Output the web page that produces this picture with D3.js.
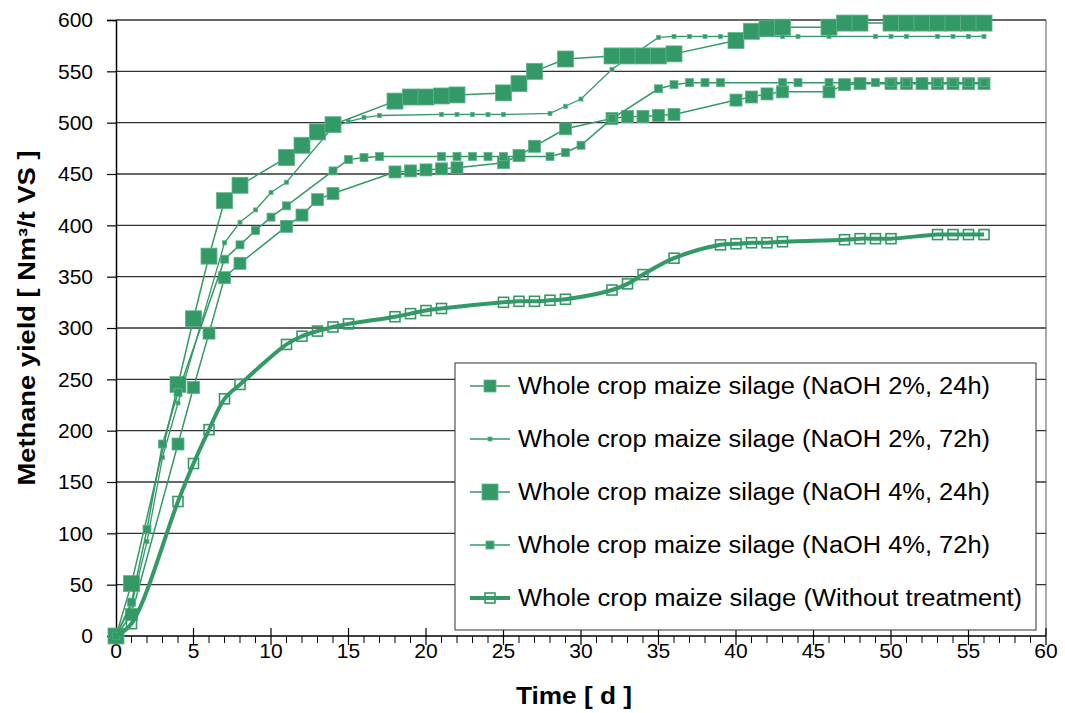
<!DOCTYPE html>
<html>
<head>
<meta charset="utf-8">
<script src="https://cdn.jsdelivr.net/npm/d3@7"></script>
<style>
  body { margin: 0; background: #fff; }
  svg text { font-family: "Liberation Sans", Arial, sans-serif; fill: #000; }
</style>
</head>
<body>
<div id="chart"></div>
<script>
// sampling days (two measuring schedules + untreated reference)
const days24h = [0, 1, 4, 5, 6, 7, 8, 11, 12, 13, 14, 18, 19, 20, 21, 22, 25, 26, 27, 29, 32, 33, 34, 35, 36, 40, 41, 42, 43, 46, 47, 48, 50, 51, 52, 53, 54, 55, 56];
const days72h = [0, 1, 2, 3, 4, 7, 8, 9, 10, 11, 14, 15, 16, 17, 21, 22, 23, 24, 25, 28, 29, 30, 32, 35, 36, 37, 38, 39, 43, 44, 46, 49, 50, 51, 53, 54, 55, 56];
const daysRaw = [0, 1, 4, 5, 6, 7, 8, 11, 12, 13, 14, 15, 18, 19, 20, 21, 25, 26, 27, 28, 29, 32, 33, 34, 36, 39, 40, 41, 42, 43, 47, 48, 49, 50, 53, 54, 55, 56];

// methane yield [Nm3/t VS]
const naoh2_24h = [0, 21, 187, 242, 295, 349, 363, 399, 410, 425, 431, 452, 453, 454, 455, 456, 461, 468, 477, 494, 504, 506, 506, 507, 508, 522, 525, 528, 530, 530, 537, 538, 538, 538, 538, 538, 538, 538, 538];
const naoh2_72h = [0, 30, 92, 174, 227, 383, 403, 415, 432, 442, 496, 501, 505, 507, 508, 508, 508, 508, 508, 509, 516, 523, 552, 583, 584, 584, 584, 584, 584, 584, 584, 584, 584, 584, 584, 584, 584, 584];
const naoh4_24h = [0, 51, 245, 309, 370, 424, 439, 466, 478, 491, 498, 521, 525, 525, 526, 527, 529, 538, 550, 562, 565, 565, 565, 565, 567, 580, 589, 592, 593, 593, 597, 597, 597, 597, 597, 597, 597, 597, 597];
const naoh4_72h = [0, 33, 104, 187, 237, 367, 381, 395, 408, 419, 453, 464, 466, 467, 467, 467, 467, 467, 467, 467, 471, 478, 504, 533, 537, 539, 539, 539, 539, 539, 539, 539, 539, 539, 539, 539, 539, 539];
const untreated = [0, 12, 131, 168, 201, 231, 245, 284, 292, 297, 301, 304, 311, 314, 317, 319, 325, 326, 326, 327, 328, 337, 343, 352, 368, 381, 382, 383, 383, 384, 386, 387, 387, 387, 391, 391, 391, 391];

const seriesNames = [
  'Whole crop maize silage (NaOH 2%, 24h)',
  'Whole crop maize silage (NaOH 2%, 72h)',
  'Whole crop maize silage (NaOH 4%, 24h)',
  'Whole crop maize silage (NaOH 4%, 72h)',
  'Whole crop maize silage (Without treatment)'
];
const xTicks = d3.range(0, 61, 5);
const yTicks = d3.range(0, 601, 50);

const green = '#339966';
const W = 1065, H = 713;
const margin = { left: 116, right: 19, top: 20, bottom: 77 };

const series = [
  { name: seriesNames[0], x: days24h, y: naoh2_24h, size: 12, lw: 1.5, open: false, smooth: false },
  { name: seriesNames[1], x: days72h, y: naoh2_72h, size: 4, lw: 1.3, open: false, smooth: false },
  { name: seriesNames[2], x: days24h, y: naoh4_24h, size: 16, lw: 1.5, open: false, smooth: false },
  { name: seriesNames[3], x: days72h, y: naoh4_72h, size: 8, lw: 1.5, open: false, smooth: false },
  { name: seriesNames[4], x: daysRaw, y: untreated, size: 10, lw: 4, open: true, smooth: true }
];

const svg = d3.select('#chart').append('svg')
  .attr('width', W)
  .attr('height', H);

const x = d3.scaleLinear().domain([0, 60]).range([margin.left, W - margin.right]);
const y = d3.scaleLinear().domain([0, 600]).range([H - margin.bottom, margin.top]);

// horizontal grid
svg.append('g')
  .selectAll('line')
  .data(yTicks.filter(d => d > 0))
  .enter().append('line')
  .attr('x1', x(0)).attr('x2', x(60))
  .attr('y1', d => y(d)).attr('y2', d => y(d))
  .attr('stroke', '#333')
  .attr('stroke-width', 1.3);

// right border
svg.append('line')
  .attr('x1', x(60)).attr('x2', x(60))
  .attr('y1', y(600)).attr('y2', y(0))
  .attr('stroke', '#555')
  .attr('stroke-width', 1);

// y axis
const yAxis = svg.append('g')
  .attr('transform', `translate(${x(0)},0)`)
  .call(d3.axisLeft(y).tickValues(yTicks).tickSize(9).tickPadding(14));
yAxis.select('.domain').attr('stroke', '#000').attr('stroke-width', 1.5);
yAxis.selectAll('.tick line').attr('stroke', '#000').attr('stroke-width', 1.2);
yAxis.selectAll('.tick text')
  .style('font-size', '21px')
  .style('font-family', '"Liberation Sans", Arial, sans-serif');

// x axis: minor ticks each day, major every 5 days crossing the axis
const xg = svg.append('g').attr('transform', `translate(0,${y(0)})`);
xg.selectAll('.minor')
  .data(d3.range(0, 61).filter(d => d % 5 !== 0))
  .enter().append('line')
  .attr('class', 'minor')
  .attr('x1', d => x(d)).attr('x2', d => x(d))
  .attr('y1', 0).attr('y2', 7)
  .attr('stroke', '#000').attr('stroke-width', 1);
xg.selectAll('.major')
  .data(xTicks)
  .enter().append('line')
  .attr('class', 'major')
  .attr('x1', d => x(d)).attr('x2', d => x(d))
  .attr('y1', -8).attr('y2', 9)
  .attr('stroke', '#000').attr('stroke-width', 1.2);
xg.append('line')
  .attr('x1', x(0)).attr('x2', x(60))
  .attr('stroke', '#000').attr('stroke-width', 1.5);
xg.selectAll('.lbl')
  .data(xTicks)
  .enter().append('text')
  .attr('class', 'lbl')
  .attr('x', d => x(d))
  .attr('y', 22)
  .attr('text-anchor', 'middle')
  .style('font-size', '21px')
  .text(d => d);

// axis titles
svg.append('text')
  .attr('x', 574)
  .attr('y', 704)
  .attr('text-anchor', 'middle')
  .attr('textLength', 116)
  .attr('lengthAdjust', 'spacingAndGlyphs')
  .style('font-size', '23px')
  .style('font-weight', 'bold')
  .text('Time [ d ]');

svg.append('text')
  .attr('transform', 'translate(35,318) rotate(-90)')
  .attr('text-anchor', 'middle')
  .attr('textLength', 335)
  .attr('lengthAdjust', 'spacingAndGlyphs')
  .style('font-size', '23px')
  .style('font-weight', 'bold')
  .text('Methane yield [ Nm³/t VS ]');

// series
function drawMarkers(g, pts, s) {
  g.selectAll('rect')
    .data(pts)
    .enter().append('rect')
    .attr('x', d => d[0] - s.size / 2)
    .attr('y', d => d[1] - s.size / 2)
    .attr('width', s.size)
    .attr('height', s.size)
    .attr('fill', s.open ? 'none' : green)
    .attr('stroke', s.open ? green : '#5fb48a')
    .attr('stroke-width', s.open ? 1.6 : 0.8);
}

series.forEach(s => {
  const pts = s.x.map((d, i) => [x(d), y(s.y[i])]);
  const line = d3.line()
    .curve(s.smooth ? d3.curveCatmullRom.alpha(0.5) : d3.curveLinear);
  const g = svg.append('g');
  g.append('path')
    .attr('d', line(pts))
    .attr('fill', 'none')
    .attr('stroke', green)
    .attr('stroke-width', s.lw);
  drawMarkers(g, pts, s);
});

// legend
const lg = svg.append('g');
lg.append('rect')
  .attr('x', 455).attr('y', 363)
  .attr('width', 581).attr('height', 267)
  .attr('fill', '#fff')
  .attr('stroke', '#333')
  .attr('stroke-width', 1);

series.forEach((s, i) => {
  const cy = 386 + i * 53;
  const row = lg.append('g');
  row.append('line')
    .attr('x1', 470).attr('x2', 510)
    .attr('y1', cy).attr('y2', cy)
    .attr('stroke', green)
    .attr('stroke-width', s.lw);
  drawMarkers(row, [[490, cy]], s);
  row.append('text')
    .attr('x', 518)
    .attr('y', cy + 8)
    .attr('textLength', i === 4 ? 504 : 472)
    .attr('lengthAdjust', 'spacingAndGlyphs')
    .style('font-size', '23px')
    .text(s.name);
});
</script>
</body>
</html>
